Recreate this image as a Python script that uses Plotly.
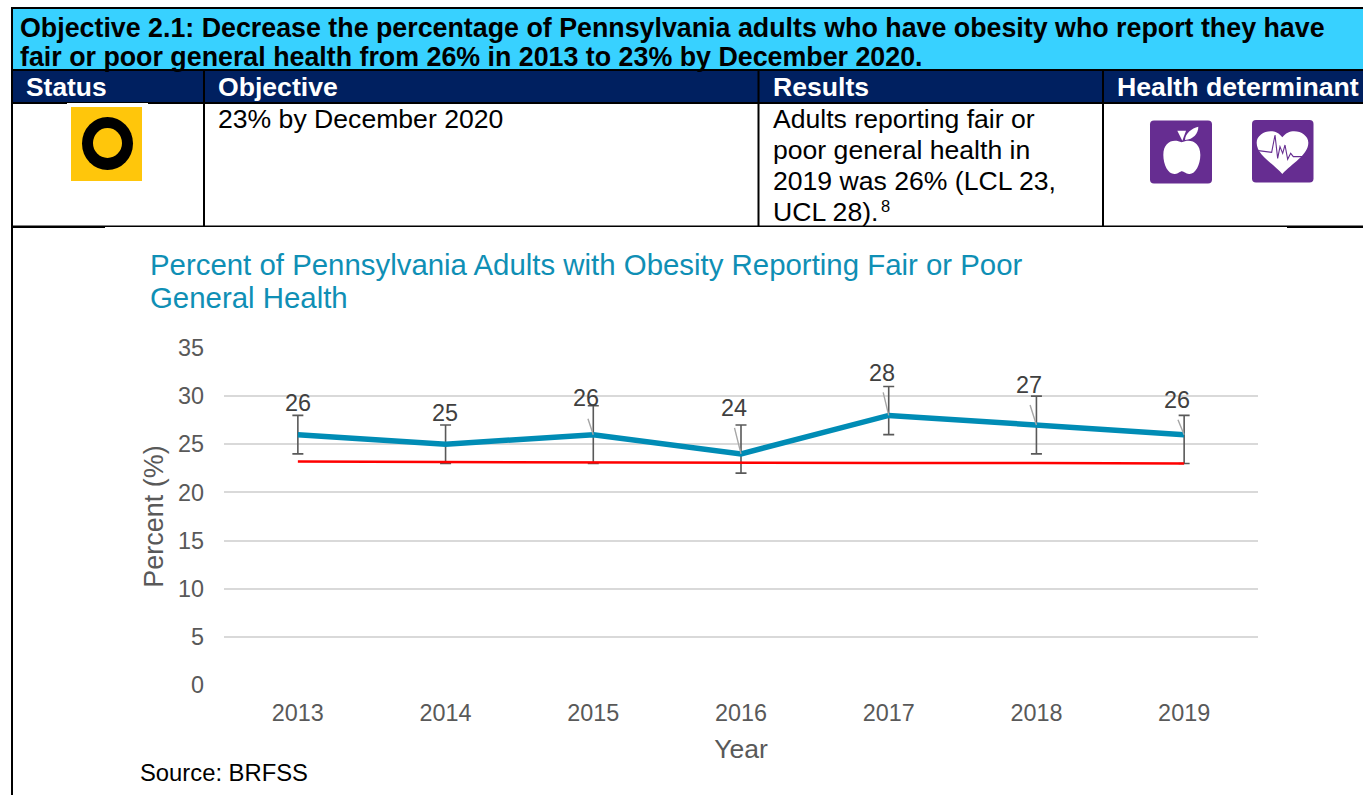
import plotly.graph_objects as go

W, H = 1363, 795
FONT = "Liberation Sans"

# ---- chart data ----
years = ["2013", "2014", "2015", "2016", "2017", "2018", "2019"]
percent = [26, 25, 26, 24, 28, 27, 26]
upper_limit = [28, 27, 29, 27, 31, 30, 28]
lower_limit = [24, 23, 23, 22, 26, 24, 23]
target = [23.2, 23.15, 23.1, 23.1, 23.05, 23.05, 23.0]
y_ticks = [0, 5, 10, 15, 20, 25, 30, 35]

# label offsets from the data point, in pixels (dx, dy)
label_offset = [(0, -32), (-0.5, -31), (-7, -37), (-7, -46), (-7, -42), (-7, -40), (-7, -35)]
leader_offset = [None, None, (-6, -18), (-7, -28), (-6, -25), (-7, -22), (-7, -17)]

px = lambda x: x / W
py = lambda y: 1 - y / H


def rect(x0, y0, x1, y1, color, radius=0):
    if radius:
        r = radius
        d = (f"M{px(x0+r)},{py(y0)} L{px(x1-r)},{py(y0)} Q{px(x1)},{py(y0)} {px(x1)},{py(y0+r)} "
             f"L{px(x1)},{py(y1-r)} Q{px(x1)},{py(y1)} {px(x1-r)},{py(y1)} "
             f"L{px(x0+r)},{py(y1)} Q{px(x0)},{py(y1)} {px(x0)},{py(y1-r)} "
             f"L{px(x0)},{py(y0+r)} Q{px(x0)},{py(y0)} {px(x0+r)},{py(y0)} Z")
        return dict(type="path", xref="paper", yref="paper", path=d, fillcolor=color,
                    line=dict(width=0), layer="below")
    return dict(type="rect", xref="paper", yref="paper", x0=px(x0), x1=px(x1), y0=py(y0), y1=py(y1),
                fillcolor=color, line=dict(width=0), layer="below")


def ellipse(x0, y0, x1, y1, color):
    return dict(type="circle", xref="paper", yref="paper", x0=px(x0), x1=px(x1), y0=py(y0), y1=py(y1),
                fillcolor=color, line=dict(width=0), layer="below")


def path(cmds, fill=None, line=None, lw=0):
    parts = []
    for c in cmds:
        if c[0] == "Z":
            parts.append("Z")
        else:
            pts = c[1:]
            parts.append(c[0] + " ".join(f"{px(pts[i])},{py(pts[i+1])}" for i in range(0, len(pts), 2)))
    s = dict(type="path", xref="paper", yref="paper", path=" ".join(parts), layer="below",
             line=dict(width=lw, color=line or "rgba(0,0,0,0)"))
    s["fillcolor"] = fill if fill else "rgba(0,0,0,0)"
    return s


def z5(x, y):
    return (x / 3 + 1130, y / 3 + 100)


def zp(*coords):
    out = []
    for i in range(0, len(coords), 2):
        out.extend(z5(coords[i], coords[i + 1]))
    return out


CYAN = "#38d1ff"
NAVY = "#002060"
BLACK = "#000000"
YEL = "#ffc60b"
PUR = "#662d91"

ecg = [(425, 157), (435, 105), (443, 175), (450, 140), (458, 160), (465, 135),
       (473, 178), (482, 160), (490, 170), (530, 170)]

shapes = [
    rect(11, 8, W, 70, CYAN),
    rect(11, 70, W, 103, NAVY),
    rect(11, 7, W, 9, BLACK),
    rect(11, 69, W, 71, BLACK),
    rect(11, 102, W, 104, BLACK),
    rect(11, 7, 13, H, BLACK),
    rect(203, 70, 205, 227, BLACK),
    rect(757.5, 70, 759.5, 227, BLACK),
    rect(1102, 70, 1104, 227, BLACK),
    rect(11, 225.5, W, 226.9, BLACK),
    rect(11, 226, 105, 228, BLACK),
    rect(1287, 226, W, 228, BLACK),
    rect(67, 103, 148, 107, "#ffffff"),
    rect(71, 107, 142, 181, YEL),
    ellipse(82, 117, 133, 170, BLACK),
    ellipse(93, 128, 122, 158, YEL),
    rect(1150, 120.5, 1212, 183.5, PUR, 4),
    rect(1252, 120, 1313.5, 182.5, PUR, 4),
    # apple body
    path([["M", *zp(155, 127)],
          ["C", *zp(130, 115, 100, 125, 100, 165)],
          ["C", *zp(100, 195, 115, 224, 135, 222)],
          ["C", *zp(145, 222, 150, 214, 156, 214)],
          ["C", *zp(162, 214, 167, 222, 177, 222)],
          ["C", *zp(195, 224, 211, 195, 211, 165)],
          ["C", *zp(211, 125, 180, 115, 155, 127)], ["Z"]], fill="#ffffff"),
    path([["M", *zp(142, 92)], ["L", *zp(168, 92)], ["L", *zp(157, 122)], ["Z"]], fill="#ffffff"),
    path([["M", *zp(165, 120)], ["C", *zp(165, 100, 185, 85, 205, 80)],
          ["C", *zp(205, 100, 190, 118, 165, 120)], ["Z"]], fill="#ffffff"),
    # heart
    path([["M", *zp(457, 222)],
          ["C", *zp(430, 190, 380, 165, 380, 128)],
          ["C", *zp(380, 95, 435, 78, 457, 112)],
          ["C", *zp(480, 78, 535, 95, 535, 128)],
          ["C", *zp(535, 165, 485, 190, 457, 222)], ["Z"]], fill="#ffffff"),
    path([["M", *zp(385, 152)]] + [["L", *zp(a, b)] for a, b in ecg], line=PUR, lw=1.1),
]

fig = go.Figure()
fig.add_trace(go.Scatter(
    x=years, y=percent, mode="lines",
    line=dict(color="#008cb5", width=5.5),
    error_y=dict(type="data", symmetric=False,
                 array=[u - v for u, v in zip(upper_limit, percent)],
                 arrayminus=[v - l for l, v in zip(lower_limit, percent)],
                 color="#595959", thickness=1.6, width=5.5),
    showlegend=False, hoverinfo="x+y"))
fig.add_trace(go.Scatter(
    x=years, y=target, mode="lines",
    line=dict(color="#ff0000", width=2.5), showlegend=False, hoverinfo="x+y"))

ann = []


def text(x, y, s, size, color=BLACK, bold=False, anchor="left"):
    ann.append(dict(xref="paper", yref="paper", x=px(x - 2), y=py(y), xanchor=anchor, yanchor="middle",
                    showarrow=False, align="left",
                    text=f"<b>{s}</b>" if bold else s,
                    font=dict(family=FONT, size=size, color=color)))


text(20, 28, "Objective 2.1: Decrease the percentage of Pennsylvania adults who have obesity who report they have", 26.8, bold=True)
text(20, 57, "fair or poor general health from 26% in 2013 to 23% by December 2020.", 26.8, bold=True)
text(26, 87, "Status", 26.4, "#ffffff", True)
text(218, 87, "Objective", 26.6, "#ffffff", True)
text(773, 87, "Results", 26.6, "#ffffff", True)
text(1117, 87, "Health determinant", 26.7, "#ffffff", True)
text(218, 119, "23% by December 2020", 26.6)
text(773, 119, "Adults reporting fair or", 26.6)
text(773, 150, "poor general health in", 26.6)
text(773, 181, "2019 was 26% (LCL 23,", 26.6)
text(773, 212, "UCL 28).", 26.6)
text(881, 206, "8", 16.5)
text(150, 264.5, "Percent of Pennsylvania Adults with Obesity Reporting Fair or Poor", 29.4, "#0f8fb5")
text(150, 297.5, "General Health", 29.4, "#0f8fb5")
text(140, 772, "Source: BRFSS", 23.8)

for i, (v, lab, lead) in enumerate(zip(percent, label_offset, leader_offset)):
    if lead:
        ann.append(dict(xref="x", yref="y", x=i, y=v, text=" ", showarrow=True, arrowhead=0,
                        arrowwidth=1.4, arrowcolor="#a6a6a6", axref="pixel", ayref="pixel",
                        ax=lead[0], ay=lead[1], standoff=0, font=dict(size=1)))
    ann.append(dict(xref="x", yref="y", x=i, y=v, text=str(v), showarrow=False,
                    xshift=lab[0], yshift=-lab[1], xanchor="center", yanchor="middle",
                    font=dict(family=FONT, size=23.4, color="#404040")))

fig.update_layout(
    width=W, height=H, autosize=False,
    margin=dict(l=0, r=0, t=0, b=0, pad=0),
    paper_bgcolor="#ffffff", plot_bgcolor="rgba(0,0,0,0)",
    shapes=shapes, annotations=ann, showlegend=False,
    font=dict(family=FONT),
    xaxis=dict(type="category", domain=[px(224), px(1258)], range=[-0.5, 6.5],
               categoryorder="array", categoryarray=years,
               showgrid=False, zeroline=False, showline=False, ticks="",
               ticklabelstandoff=12,
               tickfont=dict(size=23.4, color="#595959"),
               title=dict(text="Year", font=dict(size=26.5, color="#595959"), standoff=14),
               anchor="y", automargin=False),
    yaxis=dict(domain=[py(685), py(348)], range=[0, 35], tickvals=y_ticks,
               showgrid=True, gridcolor="#d9d9d9", gridwidth=1.7, zeroline=False,
               showline=False, ticks="", ticklen=0,
               ticklabelstandoff=19,
               tickfont=dict(size=23.4, color="#595959"),
               title=dict(text="Percent (%)", font=dict(size=27, color="#595959"), standoff=6),
               anchor="x", automargin=False),
)

fig.write_html("out.html", config=dict(displayModeBar=False),
               post_script="document.body.style.margin='0';document.documentElement.style.overflow='hidden';")
